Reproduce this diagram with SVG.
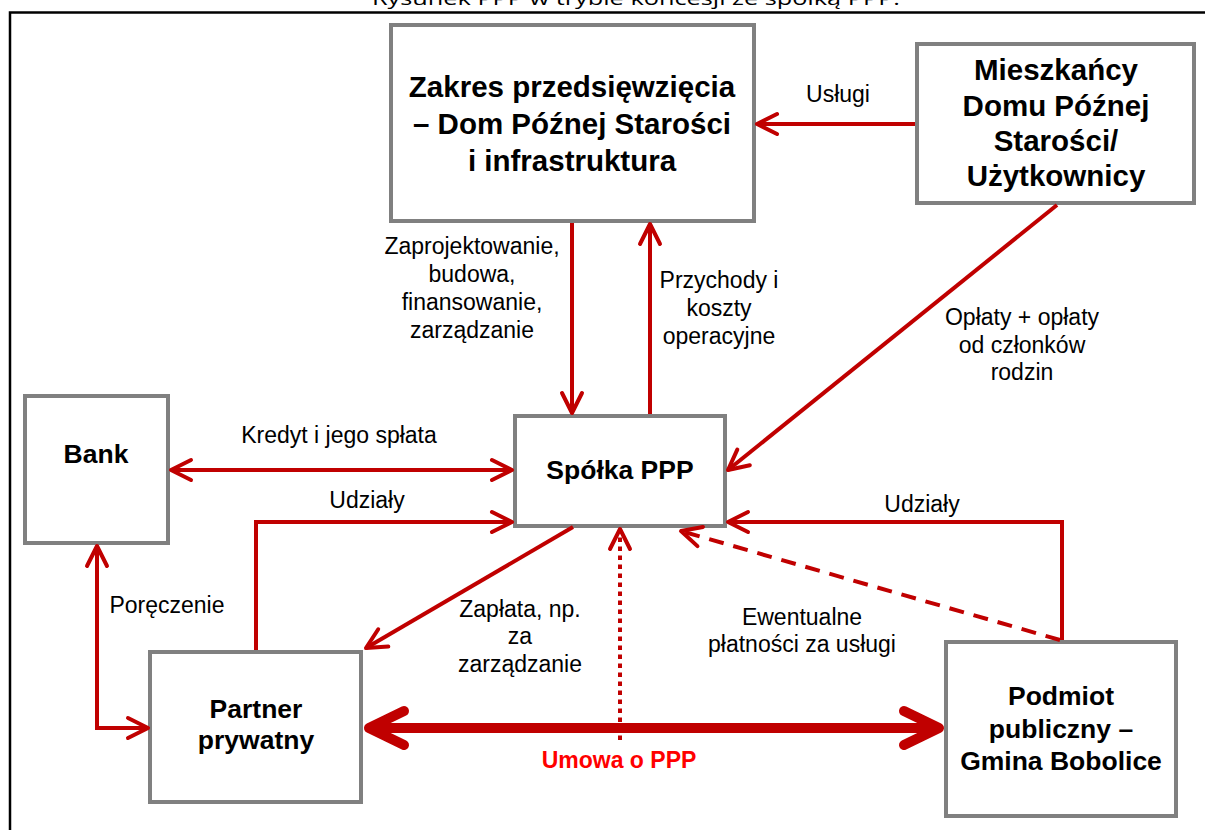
<svg xmlns="http://www.w3.org/2000/svg" width="1205" height="830" viewBox="0 0 1205 830">
<style>
.box{fill:#fff;stroke:#808080;stroke-width:4}
.nt{font-family:"Liberation Sans",Arial,sans-serif;font-weight:bold;font-size:26.5px;fill:#000;text-anchor:middle}
.nb{font-family:"Liberation Sans",Arial,sans-serif;font-weight:bold;font-size:29.5px;fill:#000;text-anchor:middle}
.lb{font-family:"Liberation Sans",Arial,sans-serif;font-size:23px;fill:#000;text-anchor:middle}
.um{font-family:"Liberation Sans",Arial,sans-serif;font-weight:bold;font-size:23px;fill:#FF0000;text-anchor:middle}
.c{fill:none;stroke:#C00000;stroke-width:4}
.thick{fill:none;stroke:#C00000;stroke-width:10}
</style>
<defs>
<marker id="ah" markerUnits="userSpaceOnUse" markerWidth="60" markerHeight="60" refX="0" refY="0" viewBox="-30 -30 60 60" orient="auto-start-reverse" overflow="visible">
<path d="M-20,-10 L0,0 L-20,10" fill="none" stroke="#C00000" stroke-width="4" stroke-linecap="round" stroke-linejoin="round" stroke-dasharray="none"/>
</marker>
<marker id="ahT" markerUnits="userSpaceOnUse" markerWidth="100" markerHeight="100" refX="0" refY="0" viewBox="-50 -50 100 100" orient="auto-start-reverse" overflow="visible">
<path d="M-32,-17 L3,0 L-32,17" fill="none" stroke="#C00000" stroke-width="10" stroke-linecap="round" stroke-linejoin="round"/>
</marker>
</defs>
<rect width="1205" height="830" fill="#fff"/>
<text x="636" y="4.5" font-family="'Open Sans','Liberation Sans',sans-serif" font-size="19" text-anchor="middle" textLength="528" lengthAdjust="spacingAndGlyphs" fill="#000">Rysunek PPP w trybie koncesji ze spółką PPP.</text>
<path d="M10,830 L10,12.5 L1205,12.5" fill="none" stroke="#000" stroke-width="2.5"/>

<g id="zakres">
<rect class="box" x="391" y="25" width="363" height="196"/>
<text class="nb" x="572" y="97">Zakres przedsięwzięcia</text>
<text class="nb" x="572" y="134">– Dom Późnej Starości</text>
<text class="nb" x="572" y="171">i infrastruktura</text>
</g>
<g id="mieszkancy">
<rect class="box" x="917" y="44" width="277" height="159"/>
<text class="nb" x="1056" y="80">Mieszkańcy</text>
<text class="nb" x="1056" y="115.5">Domu Późnej</text>
<text class="nb" x="1056" y="150.5">Starości/</text>
<text class="nb" x="1056" y="186">Użytkownicy</text>
</g>
<g id="bank">
<rect class="box" x="25" y="396" width="143" height="147"/>
<text class="nt" x="96" y="463">Bank</text>
</g>
<g id="spolka">
<rect class="box" x="515" y="416" width="210" height="110"/>
<text class="nt" x="620" y="479">Spółka PPP</text>
</g>
<g id="partner">
<rect class="box" x="150" y="652" width="211" height="150"/>
<text class="nt" x="256" y="718">Partner</text>
<text class="nt" x="256" y="749">prywatny</text>
</g>
<g id="podmiot">
<rect class="box" x="946" y="642" width="230" height="174"/>
<text class="nt" x="1061" y="705">Podmiot</text>
<text class="nt" x="1061" y="738">publiczny –</text>
<text class="nt" x="1061" y="770">Gmina Bobolice</text>
</g>

<g id="connectors">
<path class="c" d="M915,124 L757,124" marker-end="url(#ah)"/>
<path class="c" d="M572,223 L572,413" marker-end="url(#ah)"/>
<path class="c" d="M650,414 L650,224" marker-end="url(#ah)"/>
<path class="c" d="M1057,205 L728,470" marker-end="url(#ah)"/>
<path class="c" d="M171,470 L512,470" marker-start="url(#ah)" marker-end="url(#ah)"/>
<path class="c" d="M256,650 L256,522 L512,522" marker-end="url(#ah)"/>
<path class="c" d="M1062,640 L1062,522 L728,522" marker-end="url(#ah)"/>
<path class="c" d="M573,527 L366,648" marker-end="url(#ah)"/>
<path class="c" d="M620,740 L620,529" stroke-dasharray="4.5,4.5" marker-end="url(#ah)"/>
<path class="c" d="M1060,640 L681,531" stroke-dasharray="15,10" marker-end="url(#ah)"/>
<path class="thick" d="M372,728 L936,728" marker-start="url(#ahT)" marker-end="url(#ahT)"/>
<path class="c" d="M97,546 L97,728 L148,728" marker-start="url(#ah)" marker-end="url(#ah)"/>
</g>

<g id="labels">
<text class="lb" x="838" y="102">Usługi</text>
<text class="lb" x="472" y="254">Zaprojektowanie,</text>
<text class="lb" x="472" y="282">budowa,</text>
<text class="lb" x="472" y="310">finansowanie,</text>
<text class="lb" x="472" y="338">zarządzanie</text>
<text class="lb" x="719" y="288">Przychody i</text>
<text class="lb" x="719" y="316">koszty</text>
<text class="lb" x="719" y="344">operacyjne</text>
<text class="lb" x="1022" y="325">Opłaty + opłaty</text>
<text class="lb" x="1022" y="353">od członków</text>
<text class="lb" x="1022" y="380">rodzin</text>
<text class="lb" x="339" y="443">Kredyt i jego spłata</text>
<text class="lb" x="367" y="508">Udziały</text>
<text class="lb" x="922" y="512">Udziały</text>
<text class="lb" x="167" y="613">Poręczenie</text>
<text class="lb" x="520" y="617">Zapłata, np.</text>
<text class="lb" x="520" y="644">za</text>
<text class="lb" x="520" y="672">zarządzanie</text>
<text class="lb" x="802" y="625">Ewentualne</text>
<text class="lb" x="802" y="652">płatności za usługi</text>
<text class="um" x="619" y="768">Umowa o PPP</text>
</g>
</svg>
